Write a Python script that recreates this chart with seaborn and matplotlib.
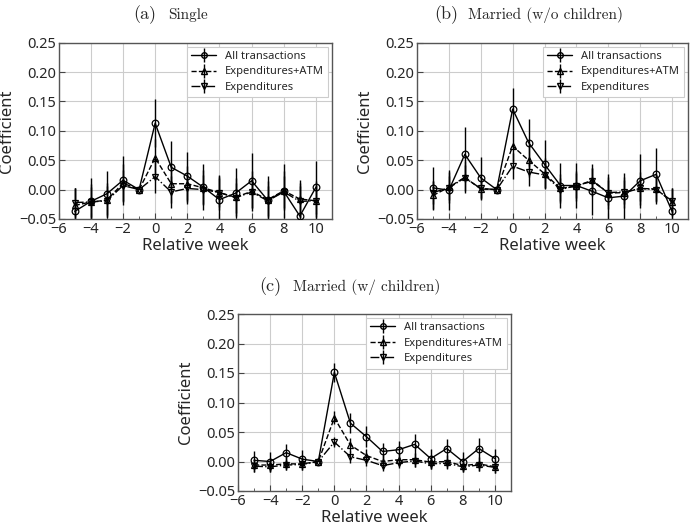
import matplotlib
matplotlib.use("Agg")
import matplotlib.pyplot as plt
from matplotlib.lines import Line2D
from matplotlib.ticker import MultipleLocator
import seaborn as sns
import pandas as pd
import numpy as np

weeks = [-5, -4, -3, -2, -1, 0, 1, 2, 3, 4, 5, 6, 7, 8, 9, 10]

# Panel (a) Single
a_all = [-0.037, -0.020, -0.007, 0.016, 0.0, 0.113, 0.038, 0.023, 0.004, -0.017, -0.006, 0.015, -0.018, -0.003, -0.045, 0.004]
a_all_err = [0.040, 0.040, 0.039, 0.042, 0.0, 0.041, 0.044, 0.041, 0.039, 0.040, 0.043, 0.047, 0.042, 0.046, 0.056, 0.045]
a_atm = [-0.027, -0.021, -0.018, 0.011, 0.0, 0.054, 0.010, 0.010, 0.003, -0.005, -0.013, -0.003, -0.017, -0.002, -0.016, -0.019]
a_atm_err = [0.030, 0.031, 0.030, 0.032, 0.0, 0.032, 0.033, 0.031, 0.030, 0.030, 0.032, 0.034, 0.031, 0.033, 0.032, 0.033]
a_exp = [-0.022, -0.021, -0.019, 0.007, 0.0, 0.022, -0.004, 0.002, 0.000, -0.005, -0.014, -0.004, -0.019, -0.004, -0.020, -0.019]
a_exp_err = [0.025, 0.026, 0.025, 0.027, 0.0, 0.027, 0.027, 0.026, 0.025, 0.025, 0.026, 0.028, 0.026, 0.027, 0.026, 0.027]

# Panel (b) Married (w/o children)
b_all = [0.003, -0.001, 0.060, 0.020, 0.0, 0.137, 0.080, 0.043, 0.007, 0.007, -0.003, -0.014, -0.011, 0.015, 0.026, -0.037]
b_all_err = [0.036, 0.034, 0.047, 0.036, 0.0, 0.036, 0.040, 0.041, 0.038, 0.039, 0.040, 0.040, 0.040, 0.046, 0.045, 0.039]
b_atm = [-0.010, 0.004, 0.021, 0.001, 0.0, 0.074, 0.050, 0.027, 0.002, 0.006, 0.016, -0.006, -0.005, 0.002, 0.001, -0.021]
b_atm_err = [0.025, 0.026, 0.027, 0.018, 0.0, 0.027, 0.028, 0.026, 0.025, 0.026, 0.027, 0.027, 0.026, 0.028, 0.026, 0.024]
b_exp = [-0.005, 0.003, 0.020, 0.002, 0.0, 0.040, 0.030, 0.025, 0.000, 0.007, 0.014, -0.005, -0.004, 0.002, 0.000, -0.019]
b_exp_err = [0.020, 0.021, 0.022, 0.016, 0.0, 0.022, 0.023, 0.022, 0.020, 0.021, 0.022, 0.022, 0.021, 0.022, 0.021, 0.020]

# Panel (c) Married (w/ children)
c_all = [0.002, 0.000, 0.015, 0.004, 0.0, 0.151, 0.065, 0.042, 0.017, 0.020, 0.029, 0.005, 0.022, 0.000, 0.022, 0.005]
c_all_err = [0.015, 0.016, 0.015, 0.015, 0.0, 0.016, 0.017, 0.018, 0.015, 0.015, 0.018, 0.016, 0.016, 0.016, 0.018, 0.017]
c_atm = [-0.006, -0.006, -0.004, -0.004, 0.0, 0.074, 0.028, 0.010, 0.000, 0.003, 0.003, -0.001, 0.000, -0.007, -0.004, -0.009]
c_atm_err = [0.011, 0.011, 0.011, 0.011, 0.0, 0.011, 0.012, 0.012, 0.011, 0.011, 0.012, 0.011, 0.011, 0.011, 0.012, 0.011]
c_exp = [-0.008, -0.009, -0.006, -0.005, 0.0, 0.033, 0.008, 0.002, -0.007, -0.002, 0.001, -0.004, -0.003, -0.009, -0.006, -0.010]
c_exp_err = [0.009, 0.009, 0.009, 0.009, 0.0, 0.009, 0.010, 0.010, 0.009, 0.009, 0.010, 0.009, 0.009, 0.009, 0.010, 0.009]

series_names = ["All transactions", "Expenditures+ATM", "Expenditures"]
panel_labels = ["(a)", "(b)", "(c)"]
panel_titles = ["Single", "Married (w/o children)", "Married (w/ children)"]
x_ticks = [-6, -4, -2, 0, 2, 4, 6, 8, 10]
y_ticks = [-0.05, 0.00, 0.05, 0.10, 0.15, 0.20, 0.25]

sns.set_style("whitegrid")
plt.rcParams['font.family'] = ['Noto Sans', 'DejaVu Sans']
plt.rcParams['axes.unicode_minus'] = True

styles = [dict(ls='-', marker='o'), dict(ls='--', marker='^'), dict(ls='-.', marker='v')]

fig = plt.figure(figsize=(6.9, 5.22), dpi=100)
W, H = 690.0, 522.0
rects = [
    (58.7, 42.7, 332, 219),
    (417, 42.7, 688, 219),
    (238, 314, 511, 491),
]
axes = [fig.add_axes([l / W, 1 - b / H, (r - l) / W, (b - t) / H]) for (l, t, r, b) in rects]

panels = [
    [(a_all, a_all_err), (a_atm, a_atm_err), (a_exp, a_exp_err)],
    [(b_all, b_all_err), (b_atm, b_atm_err), (b_exp, b_exp_err)],
    [(c_all, c_all_err), (c_atm, c_atm_err), (c_exp, c_exp_err)],
]

for ax, pdata in zip(axes, panels):
    for name, (vals, errs), st in zip(series_names, pdata, styles):
        df = pd.DataFrame({"week": weeks, "coef": vals})
        ax.errorbar(weeks, vals, yerr=errs, fmt='none', ecolor='black', elinewidth=1.0, capsize=0, zorder=2)
        sns.lineplot(data=df, x="week", y="coef", ax=ax, color='black', linestyle=st['ls'],
                     marker=st['marker'], markersize=4.8, markerfacecolor='none', markeredgecolor='black',
                     markeredgewidth=0.9, linewidth=1.0, legend=False, zorder=3)
    ax.set_xlim(-6, 11)
    ax.set_ylim(-0.05, 0.25)
    ax.set_xticks(x_ticks)
    ax.set_yticks(y_ticks)
    ax.xaxis.set_minor_locator(MultipleLocator(1))
    ax.set_yticklabels([f"{v:.2f}".replace("-", "\u2212") for v in y_ticks])
    ax.set_xticklabels([str(v).replace("-", "\u2212") for v in x_ticks])
    ax.tick_params(which='major', labelsize=10.5, direction='in', length=4, width=0.8,
                   color='#444444', pad=2, bottom=True, left=True)
    ax.tick_params(which='minor', direction='in', length=2, width=0.6, color='#444444', bottom=True)
    ax.set_xlabel("Relative week", fontsize=12, labelpad=1)
    ax.set_ylabel("Coefficient", fontsize=12, labelpad=3)
    ax.grid(True, which='major', color='#cccccc', linewidth=0.8)
    for sp in ax.spines.values():
        sp.set_color('#555555')
        sp.set_linewidth(1.0)
    handles = []
    for st in styles:
        h_line = Line2D([], [], color='black', linestyle=st['ls'], marker=st['marker'], markersize=4,
                        markerfacecolor='none', markeredgecolor='black', linewidth=1.0)
        h_err = Line2D([], [], color='black', linestyle='none', marker='|', markersize=10, markeredgewidth=1.0)
        handles.append((h_line, h_err))
    leg = ax.legend(handles, series_names, loc='upper right', fontsize=8, frameon=True,
                    fancybox=False, borderaxespad=0.35, handlelength=2.2, labelspacing=0.4,
                    handletextpad=0.8, edgecolor='#cccccc', framealpha=1.0)
    leg.get_frame().set_linewidth(0.8)

title_pos = [
    (133, 168, 19),
    (434, 468, 19),
    (259, 293, 291),
]
for (xl, xt, yb), lab, tit in zip(title_pos, panel_labels, panel_titles):
    fig.text(xl / W, 1 - yb / H, lab, family='cmr10', fontsize=13, ha='left', va='baseline')
    fig.text(xt / W, 1 - yb / H, tit, family='cmr10', fontsize=11, ha='left', va='baseline')

fig.savefig("out.png", dpi=100)
